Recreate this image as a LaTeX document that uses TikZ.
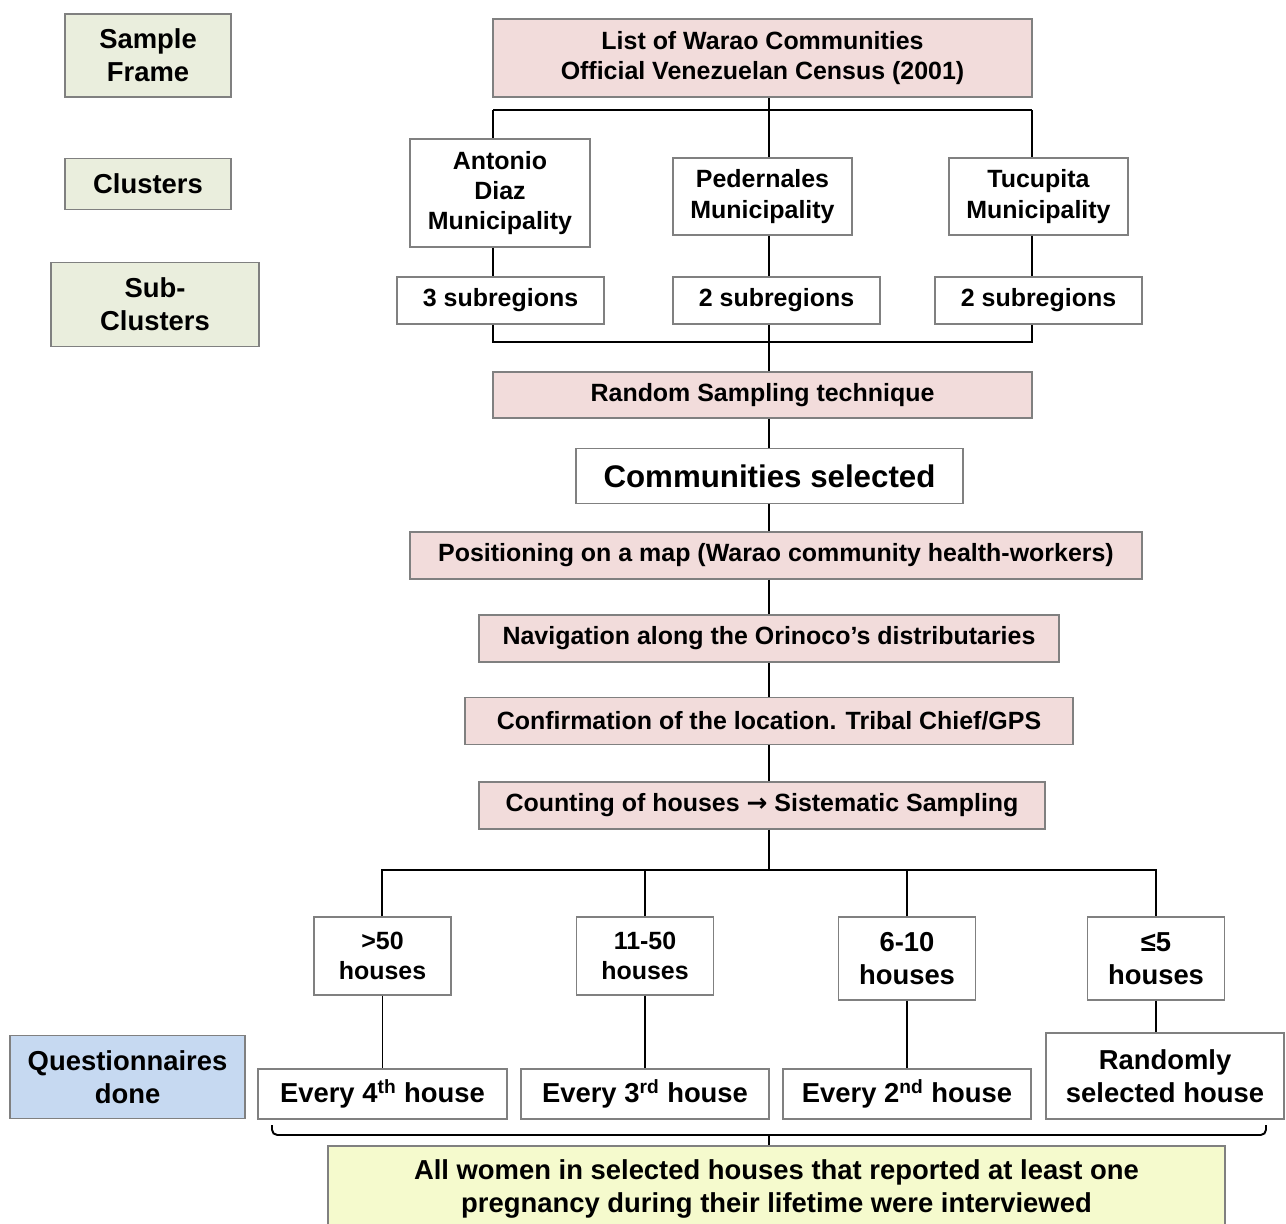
\documentclass[tikz,border=0pt]{standalone}
\usepackage{fontspec}
\setmainfont{Liberation Sans}
\newfontfamily\arrowfont{DejaVu Sans}
\definecolor{boxgray}{RGB}{128,128,128}
\definecolor{boxpink}{RGB}{242,220,219}
\definecolor{boxgreen}{RGB}{234,238,221}
\definecolor{boxblue}{RGB}{198,217,241}
\definecolor{boxyellow}{RGB}{245,250,205}
\begin{document}
\begin{tikzpicture}[x=0.02cm,y=-0.02cm,
  box/.style={draw=boxgray,line width=0.8pt,inner sep=0pt,align=center,fill=white,
    font=\fontsize{14.2}{17.3}\selectfont\bfseries},
  bigbox/.style={box,font=\fontsize{15.6}{18.8}\selectfont\bfseries},
  pinkbox/.style={box,fill=boxpink},
  levelbox/.style={bigbox,fill=boxgreen},
  link/.style={line width=1.1pt}]
\fill[white] (0,0) rectangle (1286,1224);
\useasboundingbox (0,0) rectangle (1286,1224);
\clip (0,0) rectangle (1286,1224);
% levels on the left
\node[levelbox,minimum width=3.32cm,minimum height=1.66cm] (frame) at (148,55.5) {Sample\\Frame};
\node[levelbox,minimum width=3.32cm,minimum height=1.02cm] (clus) at (148,184) {Clusters};
\node[levelbox,minimum width=4.16cm,minimum height=1.68cm] (subclus) at (155,304.5) {Sub-\\Clusters};
\node[levelbox,fill=boxblue,minimum width=4.7cm,minimum height=1.66cm] (quest) at (127.5,1077) {Questionnaires\\done};
% census and municipalities
\node[pinkbox,minimum width=10.78cm,minimum height=1.56cm] (list) at (762.5,58) {List of Warao Communities\\Official Venezuelan Census (2001)};
\node[box,minimum width=3.6cm,minimum height=2.16cm] (ant) at (500,193) {Antonio\\Diaz\\Municipality};
\node[box,minimum width=3.58cm,minimum height=1.54cm] (ped) at (762.5,196.5) {Pedernales\\Municipality};
\node[box,minimum width=3.58cm,minimum height=1.54cm] (tuc) at (1038.5,196.5) {Tucupita\\Municipality};
\node[box,minimum width=4.14cm,minimum height=0.94cm] (sub1) at (500.5,300.5) {3 subregions};
\node[box,minimum width=4.14cm,minimum height=0.94cm] (sub2) at (776.5,300.5) {2 subregions};
\node[box,minimum width=4.14cm,minimum height=0.94cm] (sub3) at (1038.5,300.5) {2 subregions};
% steps
\node[pinkbox,minimum width=10.78cm,minimum height=0.92cm] (rand) at (762.5,395) {Random Sampling technique};
\node[box,font=\fontsize{17.8}{21}\selectfont\bfseries,minimum width=7.74cm,minimum height=1.1cm] (comm) at (769.5,476) {Communities selected};
\node[pinkbox,minimum width=14.64cm,minimum height=0.94cm] (pos) at (776,555.5) {Positioning on a map (Warao community health-workers)};
\node[pinkbox,minimum width=11.6cm,minimum height=0.94cm] (nav) at (769,638.5) {Navigation along the Orinoco’s distributaries};
\node[pinkbox,minimum width=12.16cm,minimum height=0.94cm] (conf) at (769,721) {Confirmation of the location. Tribal Chief/GPS};
\node[pinkbox,minimum width=11.32cm,minimum height=0.94cm] (count) at (762,805.5) {Counting of houses {\arrowfont\bfseries →} Sistematic Sampling};
% house groups
\node[box,minimum width=2.74cm,minimum height=1.56cm] (g1) at (382.5,956) {>50\\houses};
\node[box,minimum width=2.74cm,minimum height=1.56cm] (g2) at (645,956) {11-50\\houses};
\node[bigbox,minimum width=2.74cm,minimum height=1.66cm] (g3) at (907,958.5) {6-10\\houses};
\node[bigbox,minimum width=2.74cm,minimum height=1.66cm] (g4) at (1156,958.5) {≤5\\houses};
\node[bigbox,minimum width=4.98cm,minimum height=1cm] (e1) at (382.5,1094) {Every 4\textsuperscript{th} house};
\node[bigbox,minimum width=4.96cm,minimum height=1cm] (e2) at (645,1094) {Every 3\textsuperscript{rd} house};
\node[bigbox,minimum width=4.96cm,minimum height=1cm] (e3) at (907,1094) {Every 2\textsuperscript{nd} house};
\node[bigbox,minimum width=4.76cm,minimum height=1.72cm] (e4) at (1165,1076) {Randomly\\selected house};
\node[bigbox,fill=boxyellow,minimum width=17.94cm,minimum height=1.72cm] (all) at (776.5,1189)
  {All women in selected houses that reported at least one\\pregnancy during their lifetime were interviewed};
% bus points
\coordinate (tl) at (493,110);
\coordinate (tm) at (769,110);
\coordinate (tr) at (1032,110);
\coordinate (bl) at (493,342);
\coordinate (bm) at (769,342);
\coordinate (br) at (1032,342);
\coordinate (hl) at (382,870);
\coordinate (hm) at (769,870);
\coordinate (hr) at (1156,870);
\coordinate (kl) at (272,1125);
\coordinate (km) at (769,1135);
\coordinate (kr) at (1266,1125);
% connectors
\draw[link] (tm) -- (list.south -| tm);
\draw[link] (tl) -- (tr);
\draw[link] (tl) -- (ant.north -| tl);
\draw[link] (tm) -- (ped.north -| tm);
\draw[link] (tr) -- (tuc.north -| tr);
\draw[link] (ant.south -| tl) -- (sub1.north -| tl);
\draw[link] (ped.south -| tm) -- (sub2.north -| tm);
\draw[link] (tuc.south -| tr) -- (sub3.north -| tr);
\draw[link] (sub1.south -| bl) -- (bl) -- (br) -- (sub3.south -| br);
\draw[link] (sub2.south -| bm) -- (rand.north -| bm);
\draw[link] (rand.south -| bm) -- (comm.north -| bm);
\draw[link] (comm.south -| bm) -- (pos.north -| bm);
\draw[link] (pos.south -| bm) -- (nav.north -| bm);
\draw[link] (nav.south -| bm) -- (conf.north -| bm);
\draw[link] (conf.south -| bm) -- (count.north -| bm);
\draw[link] (count.south -| hm) -- (hm);
\draw[link] (g1.north -| hl) -- (hl) -- (hr) -- (g4.north -| hr);
\draw[link] (g2.north) -- (g2.north |- hm);
\draw[link] (g3.north) -- (g3.north |- hm);
\foreach \i in {1,2,3}
  \draw[link] (g\i.south) -- (e\i.north -| g\i.south);
\draw[link] (g4.south) -- (e4.north -| g4.south);
% bracket over the last box
\draw[link,rounded corners=3] (kl) -- (kl |- km) -- (kr |- km) -- (kr);
\draw[link] (km) -- (all.north -| km);
\end{tikzpicture}
\end{document}
